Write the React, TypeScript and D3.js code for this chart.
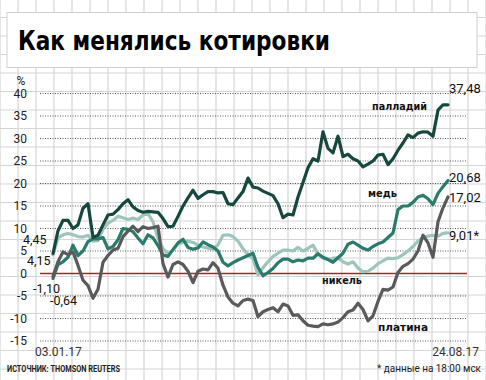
import React from "react";
import * as d3 from "d3";

const TITLE = "Как менялись котировки";
const SOURCE = "ИСТОЧНИК: THOMSON REUTERS";
const NOTE = "* данные на 18:00 мск";
const DATE_LABELS = ["03.01.17", "24.08.17"];
const Y_TICKS = [40, 35, 30, 25, 20, 15, 10, 5, 0, -5, -10, -15];

const palladium = [
  4.45, 9.5, 11.8, 11.8, 10, 10.8, 14.5, 15.5, 8.0, 8.5, 10.8, 13, 13.2, 14.2, 15.5, 16.4, 14.8, 14, 13.6, 13.8,
  13.7, 13.6, 12.2, 10.4, 10.5, 12.7, 15, 16.8, 18.5, 16.7, 17.5, 18.2, 18.2, 17.9, 18, 15.5, 15.3, 16.8, 18.2, 21.2,
  19.2, 19, 18.3, 17.8, 17.3, 15.5, 12.4, 13.2, 13, 17, 20.2, 23.5, 25.5, 25, 31.5, 27.8, 26.8, 30.5, 26, 26.5,
  25.5, 25, 23.7, 24.3, 25, 26.3, 26.5, 24.2, 25.5, 27.4, 29, 30.8, 30.2, 31.2, 31.5, 31.4, 30.5, 36.3, 37.5, 37.48,
];
const copper = [
  -1.1, 2, 2.6, 3.6, 6.3, 4, 5, 7.1, 7.7, 7.7, 8, 5.5, 6, 7.5, 10, 9.8, 9.3, 7.9, 6.6, 8.6,
  7.9, 6.2, 4.1, 3.8, 5.3, 6.8, 7.6, 5.8, 5.4, 5.7, 7, 6.4, 5.9, 5, 2.5, 1.7, 2.4, 3, 3.5, 4,
  4.5, 1.4, -0.5, 0.2, 1.1, 2.4, 3.2, 3.2, 2.6, 3, 2.8, 3.4, 3.4, 4.4, 3.6, 3.1, 2.5, 3.5, 4.5, 6.5,
  7, 6.3, 5.6, 5.2, 6, 6.6, 7, 8, 9, 14.2, 15, 15, 15.8, 17, 17.4, 16.6, 15.3, 17.8, 19.3, 20.68,
];
const nickel = [
  4.15, 7.9, 8.6, 8.9, 8.6, 8.2, 8.1, 8.5, 7.2, 7.3, 9.8, 11.2, 11.8, 12.7, 12.4, 12, 12.3, 12, 13, 13.3,
  11.5, 7.8, 5.5, 4.4, 5.3, 6.5, 7, 7.2, 6.9, 6.3, 5.9, 5.6, 5.4, 6.4, 8.5, 8.6, 8.2, 7.2, 5.5, 4.2,
  3.2, -0.3, 1.3, 2.6, 3.8, 4.5, 5.2, 5.2, 5, 5.8, 5, 5.6, 6.3, 4.3, 3.4, 3.1, 3.4, 3.5, 2.6, 2.1,
  2.6, 1.2, 0.4, 0.5, 1.2, 2.2, 2.8, 3.4, 3.3, 3.5, 4.2, 5, 6, 7.2, 8, 8.3, 8.5, 8.3, 8.9, 9.01,
];
const platinum = [
  -0.64, 2.6, 4.8, 4.2, 4.8, 1.8, -1.5, -2.7, -5.5, -3.5, 2.5, 4, 5.2, 5.6, 8.2, 9.4, 10.5, 9.3, 10.4, 10,
  10.2, 10.5, 2.2, -0.8, 2, 2.6, 2, 0.5, -2, 0.5, 1, 0.8, 2.4, 1.2, -2.6, -5.2, -6.6, -7.2, -6, -5.7,
  -6, -9.6, -8.5, -8, -7.6, -8.5, -6.8, -7.2, -9.3, -9.2, -10.5, -11.5, -11.7, -11.8, -11.2, -11.4, -11.2, -10.8, -9.8, -8.5,
  -8.1, -6.6, -8, -10.5, -9.4, -6.2, -3.5, -3.7, -3, 0.2, 1.6, 2.2, 3.2, 5, 8.5, 6.8, 3.6, 11.5, 14.6, 17.02,
];

const SERIES_NAMES = ["никель", "медь", "платина", "палладий"];
const END_LABELS = ["9,01*", "20,68", "17,02", "37,48"];
const START_LABELS = ["4,15", "-1,10", "-0,64", "4,45"];

const W = 486;
const H = 380;

export default function App() {
  const x = d3.scaleLinear().domain([0, palladium.length - 1]).range([53, 448]);
  const y = d3.scaleLinear().domain([-15, 40]).range([341, 93.5]);
  const line = d3
    .line<number>()
    .x((_, i) => x(i))
    .y((d) => y(d));

  const series = [
    { name: SERIES_NAMES[0], data: nickel, color: "#9cc6bb", nameX: 322, nameY: 284, nameW: 40, endY: 239.5, startX: 27, startY: 264.5 },
    { name: SERIES_NAMES[1], data: copper, color: "#2b7b6c", nameX: 368, nameY: 197, nameW: 29, endY: 181.5, startX: 33, startY: 292.5 },
    { name: SERIES_NAMES[2], data: platinum, color: "#5a5a5c", nameX: 378, nameY: 331, nameW: 50, endY: 201.5, startX: 50, startY: 305 },
    { name: SERIES_NAMES[3], data: palladium, color: "#17483f", nameX: 372, nameY: 110, nameW: 55, endY: 92.5, startX: 23, startY: 243.5 },
  ];

  const vGrid = d3.range(0, W + 1, 18);
  const hGrid = d3.range(-1, H + 1, 18.5);
  const numFont = "Roboto, 'DejaVu Sans', sans-serif";

  return (
    <svg width={W} height={H} style={{ position: "absolute", left: 0, top: 0, background: "#fff" }}>
      <rect x={0} y={0} width={W} height={H} fill="#fff" />
      {vGrid.map((gx) => (
        <line key={"v" + gx} x1={gx} x2={gx} y1={0} y2={H} stroke="#d5d5d5" strokeWidth={1.2} />
      ))}
      {hGrid.map((gy) => (
        <line key={"h" + gy} x1={0} x2={W} y1={gy} y2={gy} stroke="#d5d5d5" strokeWidth={1.2} />
      ))}

      <rect x={7} y={12.5} width={470} height={55} fill="#fff" stroke="#cfcfcf" strokeWidth={1} />
      <text x={18} y={50} fontFamily="'DejaVu Sans', sans-serif" fontWeight={900} fontSize={27} fill="#000" textLength={312} lengthAdjust="spacingAndGlyphs">
        {TITLE}
      </text>

      <text x={21} y={85} textAnchor="middle" fontFamily={numFont} fontSize={12} fill="#222">%</text>
      {Y_TICKS.map((t) => (
        <g key={"t" + t}>
          {t === 0 ? (
            <line x1={40} x2={467} y1={y(t)} y2={y(t)} stroke="#a3282b" strokeWidth={1.6} />
          ) : (
            <line x1={40} x2={467} y1={y(t)} y2={y(t)} stroke="#555" strokeWidth={1} strokeDasharray="1 1.5" />
          )}
          <text x={27} y={y(t)} dy="0.36em" textAnchor="end" fontFamily={numFont} fontSize={12} fill="#222">
            {t}
          </text>
        </g>
      ))}

      {series.map((s) => (
        <path key={s.name} d={line(s.data) || ""} fill="none" stroke={s.color} strokeWidth={3.2} strokeLinejoin="round" strokeLinecap="round" />
      ))}

      {series.map((s, i) => (
        <g key={"lab" + s.name}>
          <text x={s.nameX} y={s.nameY} fontFamily="'DejaVu Sans', sans-serif" fontWeight="bold" fontSize={11} fill="#111" textLength={s.nameW} lengthAdjust="spacingAndGlyphs">
            {s.name}
          </text>
          <text x={449} y={s.endY} fontFamily={numFont} fontSize={13} fill="#111">
            {END_LABELS[i]}
          </text>
          <text x={s.startX} y={s.startY} fontFamily={numFont} fontSize={12.5} fill="#111">
            {START_LABELS[i]}
          </text>
        </g>
      ))}

      <text x={35} y={356} fontFamily={numFont} fontSize={12} fill="#333">{DATE_LABELS[0]}</text>
      <text x={479} y={356} textAnchor="end" fontFamily={numFont} fontSize={12} fill="#333">{DATE_LABELS[1]}</text>

      <text x={7} y={372} fontFamily={numFont} fontWeight="bold" fontSize={9.5} fill="#222" textLength={113} lengthAdjust="spacingAndGlyphs">
        {SOURCE}
      </text>
      <text x={377} y={372} fontFamily={numFont} fontSize={10} fill="#222" textLength={104} lengthAdjust="spacingAndGlyphs">
        {NOTE}
      </text>
    </svg>
  );
}
